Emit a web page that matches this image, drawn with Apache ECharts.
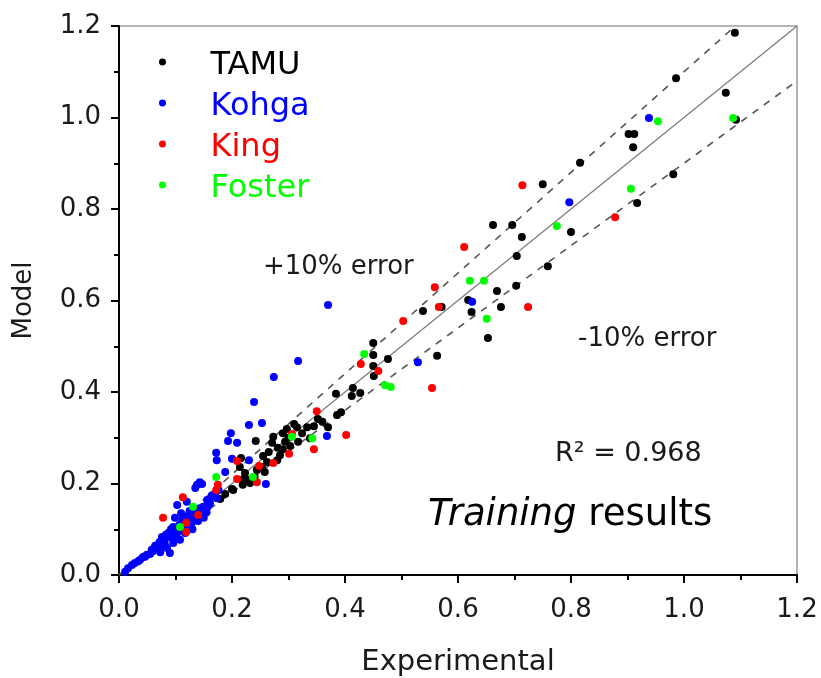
<!DOCTYPE html>
<html>
<head>
<meta charset="utf-8">
<script src="https://cdn.jsdelivr.net/npm/echarts@6/dist/echarts.min.js"></script>
<style>html,body{margin:0;padding:0;background:#fff;}#c{width:821px;height:678px;}</style>
</head>
<body>
<div id="c"></div>
<script>
// ---- data ----
const seriesNames = ['TAMU', 'Kohga', 'King', 'Foster'];
const xTicks = [0, 0.2, 0.4, 0.6, 0.8, 1.0, 1.2];

const tamu = [
  [1.090,1.185],[0.986,1.086],[1.074,1.054],[1.092,0.995],[0.902,0.964],[0.912,0.964],[0.910,0.935],
  [0.981,0.876],[0.917,0.813],[0.816,0.901],[0.750,0.854],[0.662,0.765],[0.696,0.765],[0.713,0.739],
  [0.800,0.750],[0.704,0.697],[0.759,0.675],[0.703,0.632],[0.669,0.621],[0.618,0.601],[0.624,0.575],
  [0.676,0.586],[0.653,0.518],[0.571,0.586],[0.538,0.577],[0.563,0.479],[0.450,0.507],[0.450,0.481],
  [0.476,0.472],[0.450,0.457],[0.451,0.435],[0.414,0.409],[0.427,0.398],[0.412,0.391],[0.384,0.396],
  [0.386,0.350],[0.393,0.356],[0.370,0.323],[0.352,0.341],
  [0.297,0.319],[0.315,0.323],[0.294,0.291],[0.317,0.291],[0.303,0.282],[0.324,0.310],[0.290,0.310],
  [0.333,0.323],[0.338,0.299],[0.273,0.302],[0.271,0.289],[0.281,0.278],[0.285,0.262],[0.265,0.269],
  [0.280,0.251],[0.262,0.247],[0.253,0.236],[0.244,0.230],[0.214,0.236],[0.223,0.223],[0.219,0.208],
  [0.228,0.208],[0.202,0.186],[0.219,0.197],[0.232,0.201],[0.242,0.293],[0.200,0.188],[0.188,0.177],
  [0.179,0.166],[0.216,0.256],[0.310,0.330],[0.345,0.325],[0.360,0.335],[0.300,0.300],[0.290,0.275],
  [0.255,0.260],[0.240,0.215],[0.258,0.225]
];
const kohga = [
  [0.011,0.007],[0.016,0.015],[0.023,0.022],[0.028,0.026],[0.037,0.033],[0.042,0.039],[0.050,0.044],
  [0.055,0.046],[0.060,0.052],[0.067,0.059],[0.073,0.050],[0.069,0.066],[0.078,0.061],[0.081,0.077],
  [0.085,0.059],[0.076,0.083],[0.087,0.092],[0.094,0.081],[0.099,0.077],[0.096,0.070],[0.090,0.048],
  [0.103,0.092],[0.108,0.077],[0.104,0.103],[0.112,0.120],[0.129,0.114],[0.126,0.127],[0.135,0.131],
  [0.143,0.146],[0.149,0.149],[0.161,0.157],[0.156,0.164],[0.166,0.175],[0.103,0.153],[0.096,0.105],
  [0.117,0.092],[0.138,0.197],[0.143,0.203],[0.120,0.160],[0.099,0.125],[0.147,0.199],[0.135,0.190],
  [0.164,0.173],[0.173,0.168],[0.188,0.225],[0.172,0.267],[0.173,0.251],[0.198,0.310],[0.193,0.293],
  [0.209,0.289],[0.230,0.328],[0.253,0.332],[0.239,0.378],[0.274,0.433],[0.317,0.468],[0.370,0.590],
  [0.200,0.254],[0.230,0.251],[0.260,0.199],[0.368,0.304],[0.529,0.465],[0.625,0.597],[0.797,0.815],
  [0.938,0.999],[0.147,0.131],[0.125,0.140],[0.110,0.135],[0.130,0.100],[0.140,0.118],[0.150,0.125],
  [0.120,0.105],[0.064,0.064],[0.072,0.072],[0.081,0.068],[0.089,0.084],[0.098,0.097],[0.107,0.110],
  [0.114,0.108],[0.118,0.128],[0.124,0.118],[0.132,0.124],[0.137,0.140],[0.142,0.136],[0.152,0.142],
  [0.157,0.150],[0.160,0.166],[0.170,0.178],[0.176,0.186],[0.046,0.040],[0.034,0.030],[0.058,0.055],
  [0.083,0.088],[0.092,0.100],[0.111,0.098],[0.128,0.136],[0.155,0.137]
];
const king = [
  [0.714,0.852],[0.878,0.782],[0.611,0.717],[0.559,0.629],[0.566,0.586],[0.503,0.555],[0.724,0.586],
  [0.554,0.409],[0.428,0.461],[0.459,0.446],[0.402,0.306],[0.350,0.358],[0.345,0.275],[0.306,0.308],
  [0.301,0.265],[0.273,0.245],[0.248,0.238],[0.209,0.249],[0.209,0.210],[0.244,0.203],[0.175,0.197],
  [0.172,0.186],[0.113,0.170],[0.140,0.131],[0.078,0.125],[0.119,0.114],[0.119,0.094]
];
const foster = [
  [1.087,0.999],[0.954,0.992],[0.906,0.844],[0.775,0.763],[0.621,0.643],[0.646,0.643],[0.651,0.560],
  [0.434,0.483],[0.471,0.415],[0.481,0.411],[0.342,0.299],[0.306,0.302],[0.237,0.214],[0.172,0.214],
  [0.131,0.149],[0.108,0.105]
];
// reference lines: y = x, +10% (y = 1.1x), -10% (y = 0.9x)
const lineIdentity = [[0, 0], [1.2, 1.2]];
const linePlus10 = [[0, 0], [1.0909, 1.2]];
const lineMinus10 = [[0, 0], [1.2, 1.08]];

const colors = ['#000000', '#0000ff', '#ff0000', '#00ff00'];
const FONT = 'DejaVu Sans';
// legend dot, raised a little so it sits at the cap-height centre of the label
const legendIcon = 'path://M0,1A1,1 0 1,1 2,1A1,1 0 1,1 0,1Z M1,4.29';

const chart = echarts.init(document.getElementById('c'));
const axisCommon = {
  type: 'value', min: 0, max: 1.2, interval: 0.2,
  axisLine: { show: true, onZero: false, lineStyle: { color: '#000', width: 2 } },
  axisTick: { show: true, inside: false, length: 8, lineStyle: { color: '#000', width: 2 } },
  minorTick: { show: true, splitNumber: 2, length: 5, lineStyle: { color: '#000', width: 2 } },
  splitLine: { show: false },
  nameLocation: 'middle',
  nameTextStyle: { fontFamily: FONT, fontSize: 26, color: '#1a1a1a' },
  axisLabel: { fontFamily: FONT, fontSize: 26, color: '#1a1a1a', formatter: v => v.toFixed(1) }
};

const scatterSeries = [tamu, kohga, king, foster].map((d, i) => ({
  name: seriesNames[i], type: 'scatter', data: d, symbolSize: 8, z: 5 + i,
  itemStyle: { color: colors[i], opacity: 1 }
}));

chart.setOption({
  animation: false,
  backgroundColor: '#fff',
  grid: { left: 119, right: 24, top: 26, bottom: 103, containLabel: false, outerBoundsMode: 'none',
          show: true, borderColor: '#b4b4b4', borderWidth: 2 },
  xAxis: Object.assign({}, axisCommon, {
    name: 'Experimental', nameGap: 73,
    nameTextStyle: { fontFamily: FONT, fontSize: 29, color: '#1a1a1a' },
    axisLabel: Object.assign({}, axisCommon.axisLabel, { margin: 22 })
  }),
  yAxis: Object.assign({}, axisCommon, {
    name: 'Model', nameGap: 82,
    axisLabel: Object.assign({}, axisCommon.axisLabel, { margin: 18 })
  }),
  legend: {
    orient: 'vertical', left: 154, top: 45, itemGap: 9,
    itemWidth: 86, itemHeight: 15, icon: legendIcon,
    data: seriesNames.map((n, i) => ({ name: n, textStyle: { color: colors[i] } })),
    textStyle: { fontFamily: FONT, fontSize: 32 }
  },
  series: [
    { type: 'line', data: lineIdentity, symbol: 'none', silent: true, z: 1,
      lineStyle: { color: '#7a7a7a', width: 1.2 } },
    { type: 'line', data: linePlus10, symbol: 'none', silent: true, z: 1,
      lineStyle: { color: '#555', width: 1.6, type: [7, 7] } },
    { type: 'line', data: lineMinus10, symbol: 'none', silent: true, z: 1,
      lineStyle: { color: '#555', width: 1.6, type: [7, 7] } }
  ].concat(scatterSeries),
  graphic: [
    { type: 'text', left: 263, top: 254, style: { text: '+10% error', font: '26px "DejaVu Sans"', fill: '#1a1a1a' } },
    { type: 'text', left: 578, top: 326, style: { text: '-10% error', font: '26px "DejaVu Sans"', fill: '#1a1a1a' } },
    { type: 'text', left: 555, top: 440, style: { text: 'R² = 0.968', font: '27px "DejaVu Sans"', fill: '#1a1a1a' } },
    { type: 'text', left: 428, top: 497, style: {
        text: '{i|Training} results', font: '37px "DejaVu Sans"', fill: '#000',
        rich: { i: { fontStyle: 'italic', fontFamily: FONT, fontSize: 37, fill: '#000' } } } }
  ]
});
</script>
</body>
</html>
